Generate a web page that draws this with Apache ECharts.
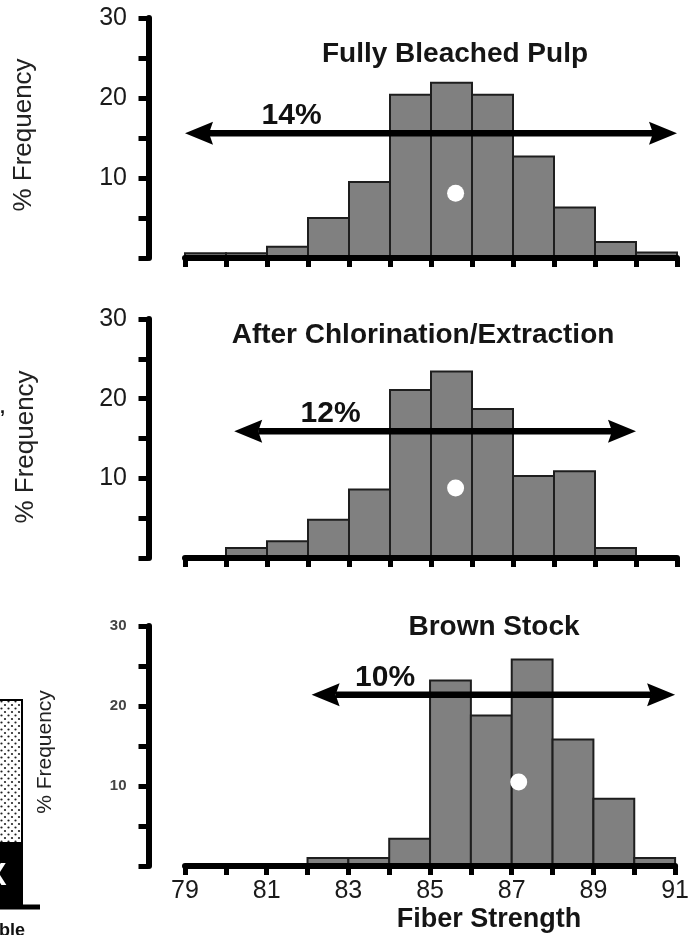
<!DOCTYPE html>
<html><head><meta charset="utf-8">
<script src="https://cdn.jsdelivr.net/npm/echarts@6/dist/echarts.min.js"></script>
<style>html,body{margin:0;padding:0;background:#fff}#c{width:692px;height:935px}</style>
</head><body><div id="c"></div>
<script>
// ---------- data ----------
const binStarts = [79, 80, 81, 82, 83, 84, 85, 86, 87, 88, 89, 90];
const binWidth = 1;
const fullyBleached     = [0.6, 0.6, 1.4, 5.0, 9.5, 20.4, 21.9, 20.4, 12.7, 6.3, 2.0, 0.7];
const afterChlorination = [0, 1.25, 2.1, 4.8, 8.6, 21.1, 23.4, 18.7, 10.3, 10.9, 1.25, 0];
const brownStock        = [0, 0, 0, 1.0, 1.0, 3.4, 23.2, 18.8, 25.8, 15.8, 8.4, 1.0];
const panelTitles = ['Fully Bleached Pulp', 'After Chlorination/Extraction', 'Brown Stock'];
const meanStrength  = [85.6, 85.6, 87.17];
const meanFrequency = [8.1, 8.8, 10.5];
const rangeFrom  = [79, 80.2, 82.1];
const rangeTo    = [91, 90.0, 91];
const rangeLevel = [15.6, 15.9, 21.4];
const rangeLabels = ['14%', '12%', '10%'];
const rangeLabelAt = [81.6, 82.55, 83.9];
const xTickLabels = [79, 81, 83, 85, 87, 89, 91];
const yTickLabels = [10, 20, 30];
const xAxisTitle = 'Fiber Strength';
const yAxisTitle = '% Frequency';

// ---------- layout / style ----------
const FONT = "'Liberation Sans', Arial, Helvetica, sans-serif";
const panels = [
  {values: fullyBleached,     top: 18,  height: 240, titleX: 455, titleY: 54,  yName: [24, 135],  yNameSize: 26, yLabSize: 25, yLabBold: 'normal', yLabColor: '#1a1a1a'},
  {values: afterChlorination, top: 319, height: 239, titleX: 423, titleY: 335.5, yName: [25.5, 447], yNameSize: 26, yLabSize: 25, yLabBold: 'normal', yLabColor: '#1a1a1a'},
  {values: brownStock,        top: 626, height: 240, titleX: 494, titleY: 627.5, yName: [45, 752], yNameSize: 21, yLabSize: 15, yLabBold: 'bold', yLabColor: '#444'}
];
const GRID_LEFT = 185, GRID_WIDTH = 492;

function makeDots() {
  const c = document.createElement('canvas'); c.width = 7; c.height = 7;
  const g = c.getContext('2d');
  g.fillStyle = '#fff'; g.fillRect(0, 0, 7, 7);
  g.fillStyle = '#222';
  g.beginPath(); g.arc(1.5, 1.5, 1.1, 0, 7); g.fill();
  g.beginPath(); g.arc(5, 5, 1.1, 0, 7); g.fill();
  return c;
}

const grids = [], xAxes = [], yAxes = [], series = [], graphics = [];

panels.forEach((p, i) => {
  const last = i === panels.length - 1;
  grids.push({left: GRID_LEFT, width: GRID_WIDTH, top: p.top, height: p.height, containLabel: false});
  xAxes.push({
    type: 'value', gridIndex: i, min: binStarts[0], max: binStarts[binStarts.length - 1] + binWidth, interval: 1,
    z: 3,
    axisLine: {show: true, onZero: false, lineStyle: {color: '#000', width: 6}},
    axisTick: {show: true, length: 9, lineStyle: {color: '#000', width: 5}},
    splitLine: {show: false},
    axisLabel: {show: last, margin: 13, fontFamily: FONT, fontSize: 25, color: '#1a1a1a',
      formatter: v => xTickLabels.includes(v) ? String(v) : ''}
  });
  yAxes.push({
    type: 'value', gridIndex: i, min: 0, max: 30, interval: 5, offset: 36.5,
    z: 3,
    axisLine: {show: true, lineStyle: {color: '#000', width: 6}},
    axisTick: {show: true, length: 10, lineStyle: {color: '#000', width: 5}},
    splitLine: {show: false},
    axisLabel: {show: true, margin: last ? 22 : 21.5, fontFamily: FONT, fontSize: p.yLabSize, fontWeight: p.yLabBold, color: p.yLabColor,
      formatter: v => yTickLabels.includes(v) ? String(v) : ''}
  });

  // histogram bars
  series.push({
    type: 'custom', xAxisIndex: i, yAxisIndex: i, z: 2,
    data: binStarts.map((b, k) => [b, p.values[k]]),
    renderItem: (params, api) => {
      const x0 = api.value(0), h = api.value(1);
      if (!h) return null;
      const a = api.coord([x0, h]), b = api.coord([x0 + binWidth, 0]);
      return {type: 'rect', shape: {x: a[0], y: a[1], width: b[0] - a[0], height: b[1] - a[1]},
        style: {fill: '#808080', stroke: '#1e1e1e', lineWidth: 2}};
    }
  });

  // range arrow + label
  series.push({
    type: 'custom', xAxisIndex: i, yAxisIndex: i, z: 4,
    data: [[rangeFrom[i], rangeTo[i], rangeLevel[i], rangeLabelAt[i]]],
    renderItem: (params, api) => {
      const l = api.coord([api.value(0), api.value(2)]);
      const r = api.coord([api.value(1), api.value(2)]);
      const lab = api.coord([api.value(3), api.value(2)]);
      const L = 28, W = 11.5, N = 4;
      return {type: 'group', children: [
        {type: 'line', shape: {x1: l[0] + L - N, y1: l[1], x2: r[0] - L + N, y2: r[1]}, style: {stroke: '#000', lineWidth: 6.5}},
        {type: 'polygon', shape: {points: [[l[0], l[1]], [l[0] + L, l[1] - W], [l[0] + L - N, l[1]], [l[0] + L, l[1] + W]]}, style: {fill: '#000'}},
        {type: 'polygon', shape: {points: [[r[0], r[1]], [r[0] - L, r[1] - W], [r[0] - L + N, r[1]], [r[0] - L, r[1] + W]]}, style: {fill: '#000'}},
        {type: 'text', x: lab[0], y: lab[1] - 17.5,
          style: {text: rangeLabels[i], font: 'bold 30px ' + FONT, fill: '#111',
            align: 'center', verticalAlign: 'middle', textAlign: 'center', textVerticalAlign: 'middle'}}
      ]};
    }
  });

  // mean dot
  series.push({
    type: 'scatter', xAxisIndex: i, yAxisIndex: i, z: 5,
    data: [[meanStrength[i], meanFrequency[i]]],
    symbol: 'circle', symbolSize: 17,
    itemStyle: {color: '#fff', borderWidth: 0, opacity: 1},
    emphasis: {disabled: true},
    silent: true
  });

  graphics.push({type: 'text', x: p.titleX, y: p.titleY, z: 10,
    style: {text: panelTitles[i], font: 'bold 28px ' + FONT, fill: '#151515',
      align: 'center', verticalAlign: 'middle', textAlign: 'center', textVerticalAlign: 'middle'}});
  graphics.push({type: 'text', x: p.yName[0], y: p.yName[1], rotation: Math.PI / 2, z: 10,
    style: {text: yAxisTitle, font: p.yNameSize + 'px ' + FONT, fill: '#222',
      align: 'center', verticalAlign: 'middle', textAlign: 'center', textVerticalAlign: 'middle'}});
});

graphics.push({type: 'text', x: 489, y: 920, z: 10,
  style: {text: xAxisTitle, font: 'bold 27px ' + FONT, fill: '#151515',
    align: 'center', verticalAlign: 'middle', textAlign: 'center', textVerticalAlign: 'middle'}});

// fragments of a neighbouring figure cropped at the left edge
graphics.push({type: 'rect', shape: {x: -3, y: 700, width: 25, height: 143},
  style: {fill: {type: 'pattern', image: makeDots(), repeat: 'repeat'}, stroke: '#000', lineWidth: 2}});
graphics.push({type: 'rect', shape: {x: -3, y: 843, width: 26, height: 66}, style: {fill: '#000'}});
graphics.push({type: 'rect', shape: {x: -3, y: 904.5, width: 43, height: 5}, style: {fill: '#000'}});
graphics.push({type: 'text', x: -4, y: 876, z: 10,
  style: {text: 'X', font: 'bold 32px ' + FONT, fill: '#fff', align: 'center', verticalAlign: 'middle', textAlign: 'center', textVerticalAlign: 'middle'}});
graphics.push({type: 'text', x: -1, y: 922, z: 10,
  style: {text: 'ble', font: 'bold 18px ' + FONT, fill: '#111', align: 'left', verticalAlign: 'top', textAlign: 'left', textVerticalAlign: 'top'}});
graphics.push({type: 'text', x: 0, y: 408, z: 10,
  style: {text: ',', font: 'bold 18px ' + FONT, fill: '#111', align: 'left', verticalAlign: 'middle', textAlign: 'left', textVerticalAlign: 'middle'}});

const chart = echarts.init(document.getElementById('c'), null, {renderer: 'canvas'});
chart.setOption({
  animation: false,
  backgroundColor: '#fff',
  grid: grids, xAxis: xAxes, yAxis: yAxes, series: series,
  graphic: {elements: graphics}
});
</script>
</body></html>
